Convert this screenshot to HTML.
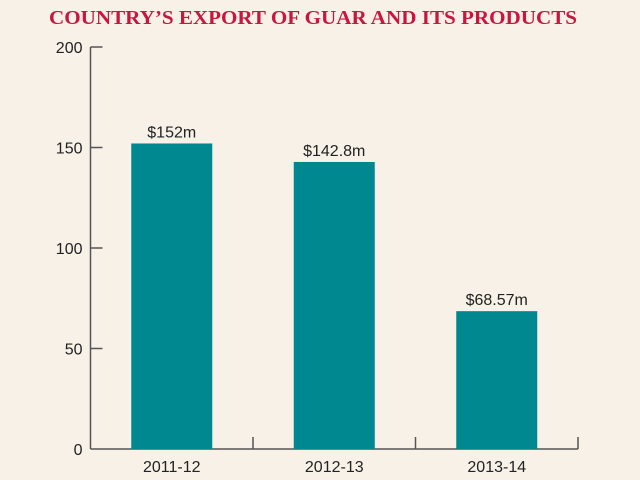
<!DOCTYPE html>
<html><head><meta charset="utf-8"><style>
body{margin:0;background:#f8f1e7;}
svg{display:block;}
</style></head><body>
<svg id="chart" width="640" height="480" xmlns="http://www.w3.org/2000/svg">
<rect width="640" height="480" fill="#f8f1e7"/>
<text x="313" y="24" text-anchor="middle" font-family="Liberation Serif, serif" font-size="19.5" font-weight="bold" fill="#c8163f" textLength="528" lengthAdjust="spacingAndGlyphs">COUNTRY’S EXPORT OF GUAR AND ITS PRODUCTS</text>
<g id="axes"></g>
<g id="bars"></g>
</svg>
<script>
const categories = ["2011-12","2012-13","2013-14"];
const values = [152,142.8,68.57];
const valueLabels = ["$152m","$142.8m","$68.57m"];
const yTicks = [0,50,100,150,200];

const NS="http://www.w3.org/2000/svg";
const x0=90.5, y0=449, yTop=47, xEnd=578;
const y=v=>y0-(v/200)*(y0-yTop);
const band=(xEnd-x0)/categories.length;
const bx=i=>x0+band*i+(band-81)/2;
function mk(tag,attrs,parent){const e=document.createElementNS(NS,tag);for(const k in attrs)e.setAttribute(k,attrs[k]);parent.appendChild(e);return e;}
const axes=document.getElementById('axes'), bars=document.getElementById('bars');
let a=mk('line',{x1:x0,y1:yTop,x2:x0,y2:y0,stroke:'#555','stroke-width':1.5},axes);


a=mk('line',{x1:x0,y1:y0,x2:xEnd,y2:y0,stroke:'#555','stroke-width':1.5},axes);


yTicks.forEach(t=>{
  if(t>0){const l=mk('line',{x1:x0,y1:y(t),x2:x0+12,y2:y(t),stroke:'#555','stroke-width':1.5},axes);
  
  }
  const tx=mk('text',{x:x0-8,y:y(t)+6,'text-anchor':'end','font-family':'Liberation Sans, sans-serif','font-size':16,fill:'#222'},axes);
  tx.textContent=t;
  
  
});
for(let i=1;i<=categories.length;i++){
  const l=mk('line',{x1:x0+band*i,y1:y0,x2:x0+band*i,y2:y0-12,stroke:'#555','stroke-width':1.5},axes);
  
  
}
categories.forEach((c,i)=>{
  const r=mk('rect',{x:bx(i),y:y(values[i]),width:81,height:y0-y(values[i]),fill:'#008891'},bars);
  
  
  const v=mk('text',{x:bx(i)+40.5,y:y(values[i])-6,'text-anchor':'middle','font-family':'Liberation Sans, sans-serif','font-size':16,fill:'#222'},bars);
  v.textContent=valueLabels[i];
  
  
  const cl=mk('text',{x:bx(i)+40.5,y:472,'text-anchor':'middle','font-family':'Liberation Sans, sans-serif','font-size':16,fill:'#222'},bars);
  cl.textContent=c;
  
  
});
</script>
</body></html>
